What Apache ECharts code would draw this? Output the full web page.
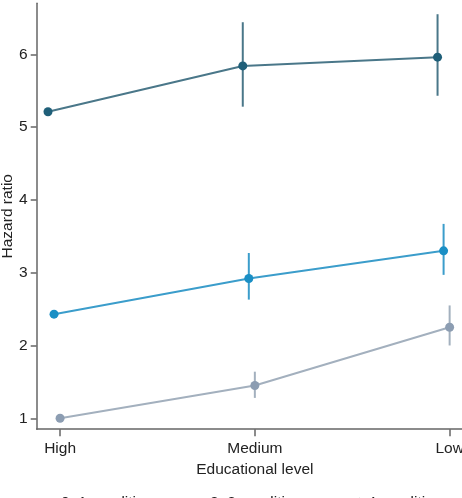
<!DOCTYPE html>
<html><head><meta charset="utf-8">
<script src="https://cdn.jsdelivr.net/npm/echarts@6/dist/echarts.min.js"></script>
<style>html,body{margin:0;padding:0;background:#fff}#c{width:462px;height:498px}</style>
</head><body><div id="c"></div>
<script>
const categories = ['High', 'Medium', 'Low'];
const seriesNames = ['0–1 conditions', '2–3 conditions', '≥4 conditions'];
const hr1 = [1.00, 1.45, 2.25];
const lo1 = [null, 1.28, 2.00];
const hi1 = [null, 1.64, 2.55];
const hr2 = [2.43, 2.92, 3.30];
const lo2 = [null, 2.63, 2.97];
const hi2 = [null, 3.27, 3.67];
const hr3 = [5.21, 5.84, 5.96];
const lo3 = [null, 5.28, 5.43];
const hi3 = [null, 6.44, 6.55];
const yTicks = [1, 2, 3, 4, 5, 6];

const colors = ['#8c9db2', '#1a8fc5', '#1f5f79'];
const lineColors = ['#a3b0be', '#3b9dcb', '#4a7789'];
const dodge = [0, -0.031, -0.062];
const all = [[hr1, lo1, hi1], [hr2, lo2, hi2], [hr3, lo3, hi3]];

const font = 'Liberation Sans, Arial, sans-serif';
const series = [];
all.forEach(([hr, lo, hi], s) => {
  series.push({
    name: seriesNames[s], type: 'line',
    data: hr.map((v, i) => [i + dodge[s], v]),
    symbol: 'circle', symbolSize: 9,
    itemStyle: { color: colors[s] },
    lineStyle: { color: lineColors[s], width: 2 },
    z: 3
  });
  series.push({
    type: 'custom', name: seriesNames[s],
    data: hr.map((v, i) => [i + dodge[s], lo[i], hi[i]]).filter(d => d[1] != null),
    renderItem: (params, api) => {
      const a = api.coord([api.value(0), api.value(1)]);
      const b = api.coord([api.value(0), api.value(2)]);
      return { type: 'line', shape: { x1: a[0], y1: a[1], x2: b[0], y2: b[1] },
        style: { stroke: lineColors[s], lineWidth: 2 } };
    },
    z: 2, silent: true
  });
});

const chart = echarts.init(document.getElementById('c'));
chart.setOption({
  animation: false,
  color: colors,
  grid: { left: 36.7, right: -11, top: 3.3, bottom: 68.8, containLabel: false, outerBoundsMode: 'none' },
  xAxis: {
    type: 'value', min: -0.12, max: 2.12,
    name: 'Educational level', nameLocation: 'middle', nameGap: 31,
    nameTextStyle: { color: '#222', fontSize: 15.5, fontFamily: font },
    axisLine: { show: true, onZero: false, lineStyle: { color: '#666', width: 1.5 } },
    axisTick: { show: true, length: 7, customValues: [0, 1, 2], lineStyle: { color: '#666', width: 1.5 } },
    axisLabel: { customValues: [0, 1, 2], formatter: v => categories[Math.round(v)], color: '#222', fontSize: 15.5, fontFamily: font, margin: 12 },
    splitLine: { show: false }
  },
  yAxis: {
    type: 'value', min: 0.85, max: 6.7,
    name: 'Hazard ratio', nameLocation: 'middle', nameRotate: 90, nameGap: 21, nameMoveOverlap: false,
    nameTextStyle: { color: '#222', fontSize: 15.5, fontFamily: font },
    axisLine: { show: true, onZero: false, lineStyle: { color: '#666', width: 1.5 } },
    axisTick: { show: true, length: 6, customValues: yTicks, lineStyle: { color: '#666', width: 1.5 } },
    axisLabel: { customValues: yTicks, color: '#222', fontSize: 15.5, fontFamily: font, margin: 9 },
    splitLine: { show: false }
  },
  legend: {
    data: seriesNames, top: 490, left: 33, itemGap: 26,
    icon: 'circle', itemWidth: 9, itemHeight: 9,
    textStyle: { color: '#222', fontSize: 15.5, fontFamily: font, padding: [0, 0, 0, 9] }
  },
  series: series
});
</script></body></html>
